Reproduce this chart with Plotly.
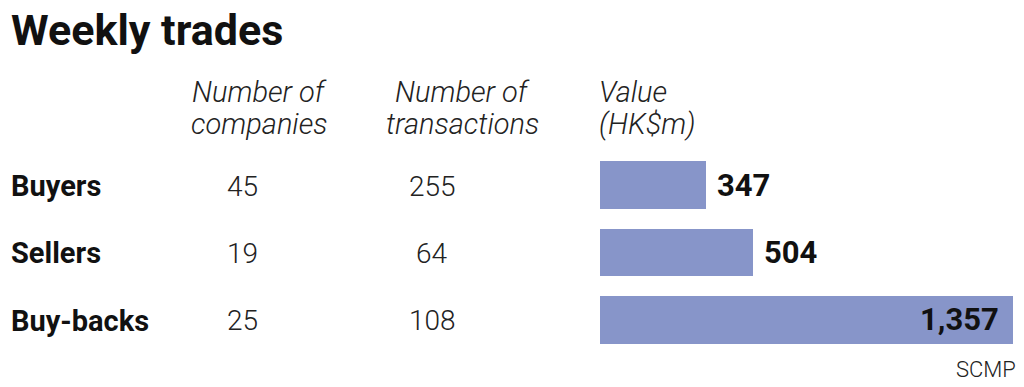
import plotly.graph_objects as go

categories = ["Buyers", "Sellers", "Buy-backs"]
companies = [45, 19, 25]
transactions = [255, 64, 108]
values = [347, 504, 1357]
headers = [["Number of", "companies"], ["Number of", "transactions"], ["Value", "(HK$m)"]]

W, H = 1024, 387
FONT = "Roboto, sans-serif"
BAR_COLOR = "#8795c9"

fig = go.Figure()
fig.add_trace(go.Bar(
    y=categories, x=values, orientation="h",
    marker=dict(color=BAR_COLOR, line=dict(width=0)),
    width=0.71, hoverinfo="skip", showlegend=False,
))

ann = []
# title
ann.append(dict(text="<b>Weekly trades</b>", x=9 / W, y=1 - 3 / H, xref="paper", yref="paper",
                xanchor="left", yanchor="top", showarrow=False,
                font=dict(family=FONT, size=43, color="#111")))
# column headers (one annotation per line for tight spacing)
hdr_font = dict(family=FONT, size=29, color="#222", weight=300)
hdr_pos = [(259, "center"), (462, "center"), (597, "left")]
line_y = [92, 124]
for (hx, anchor), lines in zip(hdr_pos, headers):
    for ly, txt in zip(line_y, lines):
        ann.append(dict(text=f"<i>{txt}</i>", x=hx / W, y=1 - ly / H, xref="paper", yref="paper",
                        xanchor=anchor, yanchor="middle", showarrow=False, font=hdr_font))

row_font = dict(family=FONT, size=29, color="#111")
num_font = dict(family=FONT, size=28, color="#222", weight=300)
val_font = dict(family=FONT, size=31, color="#111")
vmax = max(values)
for cat, c, t, v in zip(categories, companies, transactions, values):
    ann.append(dict(text=f"<b>{cat}</b>", x=9 / W, y=cat, xref="paper", yref="y", yshift=-1,
                    xanchor="left", yanchor="middle", showarrow=False, font=row_font))
    ann.append(dict(text=f"{c}", x=242 / W, y=cat, xref="paper", yref="y", yshift=-1,
                    xanchor="center", yanchor="middle", showarrow=False, font=num_font))
    ann.append(dict(text=f"{t}", x=432 / W, y=cat, xref="paper", yref="y", yshift=-1,
                    xanchor="center", yanchor="middle", showarrow=False, font=num_font))
    inside = v / vmax > 0.8
    ann.append(dict(text=f"<b>{v:,}</b>", x=v, y=cat, xref="x", yref="y",
                    xanchor="right" if inside else "left", xshift=-12 if inside else 9,
                    yanchor="middle", showarrow=False, font=val_font))

ann.append(dict(text="SCMP", x=1018 / W, y=1 - 384 / H, xref="paper", yref="paper",
                xanchor="right", yanchor="bottom", showarrow=False,
                font=dict(family=FONT, size=22, color="#222", weight=300)))

fig.update_layout(
    width=W, height=H, margin=dict(l=0, r=0, t=0, b=0),
    paper_bgcolor="white", plot_bgcolor="white",
    xaxis=dict(domain=[600 / W, 1013 / W], range=[0, vmax], visible=False, fixedrange=True),
    yaxis=dict(domain=[0, 1], type="category", range=[2.993, -2.741], visible=False, fixedrange=True),
    annotations=ann, bargap=0,
)
fig.write_html("out.html", config={"displayModeBar": False},
               post_script="document.body.style.margin='0';document.body.style.overflow='hidden';")
